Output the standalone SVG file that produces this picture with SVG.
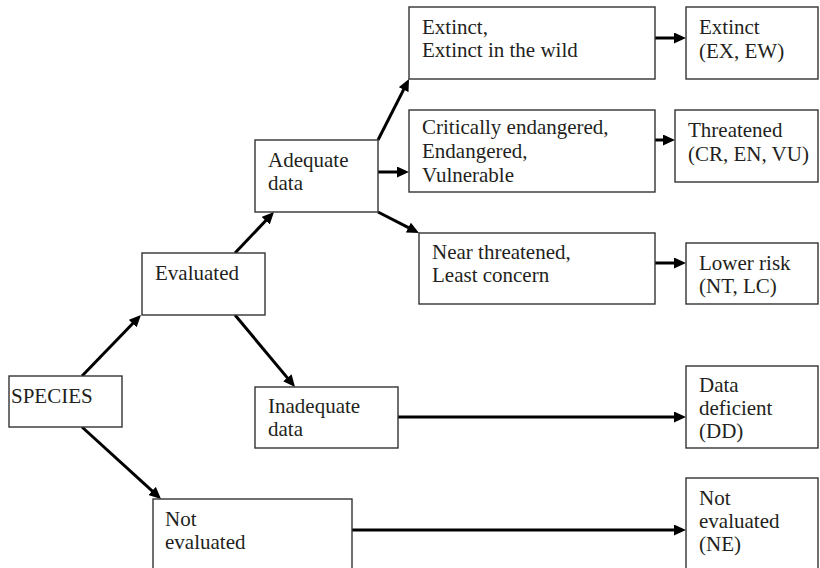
<svg xmlns="http://www.w3.org/2000/svg" width="820" height="568" viewBox="0 0 820 568">
<style>
.box{fill:#fff;stroke:#333;stroke-width:1.4}
.t{font-family:"Liberation Serif","Times New Roman","DejaVu Serif",serif;font-size:21px;fill:#231f20}
.c{stroke:#000;stroke-width:3;fill:none}
</style>
<defs>
<marker id="ah" markerUnits="userSpaceOnUse" markerWidth="12" markerHeight="11" refX="4" refY="5.5" orient="auto">
<path d="M0,0 L12,5.5 L0,11 z" fill="#000"/>
</marker>
</defs>
<rect width="820" height="568" fill="#fff"/>
<g id="connectors">
<line class="c" x1="82" y1="376" x2="135.4" y2="320.7" marker-end="url(#ah)"/>
<line class="c" x1="235" y1="253" x2="268.5" y2="217.8" marker-end="url(#ah)"/>
<line class="c" x1="235" y1="315" x2="289.9" y2="380.9" marker-end="url(#ah)"/>
<line class="c" x1="82" y1="427" x2="155.1" y2="493.6" marker-end="url(#ah)"/>
<line class="c" x1="378" y1="140" x2="405.4" y2="86.1" marker-end="url(#ah)"/>
<line class="c" x1="378" y1="172" x2="401" y2="172" marker-end="url(#ah)"/>
<line class="c" x1="378" y1="212" x2="411.9" y2="229.4" marker-end="url(#ah)"/>
<line class="c" x1="655" y1="38" x2="678" y2="38" marker-end="url(#ah)"/>
<line class="c" x1="655" y1="140" x2="667" y2="140" marker-end="url(#ah)"/>
<line class="c" x1="655" y1="263" x2="678" y2="263" marker-end="url(#ah)"/>
<line class="c" x1="398" y1="417" x2="678" y2="417" marker-end="url(#ah)"/>
<line class="c" x1="352" y1="530" x2="678" y2="530" marker-end="url(#ah)"/>
</g>
<g id="species"><rect class="box" x="9" y="376" width="113" height="51"/><text class="t" x="11" y="403">SPECIES</text></g>
<g id="evaluated"><rect class="box" x="142" y="253" width="123" height="62"/><text class="t" x="155" y="280">Evaluated</text></g>
<g id="not-evaluated"><rect class="box" x="153" y="499" width="199" height="75"/><text class="t" x="165" y="526">Not</text><text class="t" x="165" y="549">evaluated</text></g>
<g id="adequate"><rect class="box" x="255" y="140" width="123" height="72"/><text class="t" x="268" y="167">Adequate</text><text class="t" x="268" y="190">data</text></g>
<g id="inadequate"><rect class="box" x="255" y="387" width="143" height="61"/><text class="t" x="268" y="413">Inadequate</text><text class="t" x="268" y="436">data</text></g>
<g id="extinct-cat"><rect class="box" x="409" y="7" width="246" height="72"/><text class="t" x="422" y="34">Extinct,</text><text class="t" x="422" y="57">Extinct in the wild</text></g>
<g id="threat-cat"><rect class="box" x="409" y="110" width="246" height="82"/><text class="t" x="422" y="134">Critically endangered,</text><text class="t" x="422" y="158">Endangered,</text><text class="t" x="422" y="182">Vulnerable</text></g>
<g id="lower-cat"><rect class="box" x="419" y="233" width="236" height="71"/><text class="t" x="432" y="259">Near threatened,</text><text class="t" x="432" y="282">Least concern</text></g>
<g id="extinct"><rect class="box" x="686" y="7" width="132" height="72"/><text class="t" x="699" y="34">Extinct</text><text class="t" x="699" y="58">(EX, EW)</text></g>
<g id="threatened"><rect class="box" x="675" y="110" width="143" height="72"/><text class="t" x="688" y="137">Threatened</text><text class="t" x="688" y="161">(CR, EN, VU)</text></g>
<g id="lower-risk"><rect class="box" x="686" y="243" width="132" height="61"/><text class="t" x="699" y="270">Lower risk</text><text class="t" x="699" y="293">(NT, LC)</text></g>
<g id="data-deficient"><rect class="box" x="686" y="366" width="132" height="82"/><text class="t" x="699" y="392">Data</text><text class="t" x="699" y="415">deficient</text><text class="t" x="699" y="438">(DD)</text></g>
<g id="ne"><rect class="box" x="686" y="478" width="132" height="96"/><text class="t" x="699" y="505">Not</text><text class="t" x="699" y="528">evaluated</text><text class="t" x="699" y="551">(NE)</text></g>
</svg>
